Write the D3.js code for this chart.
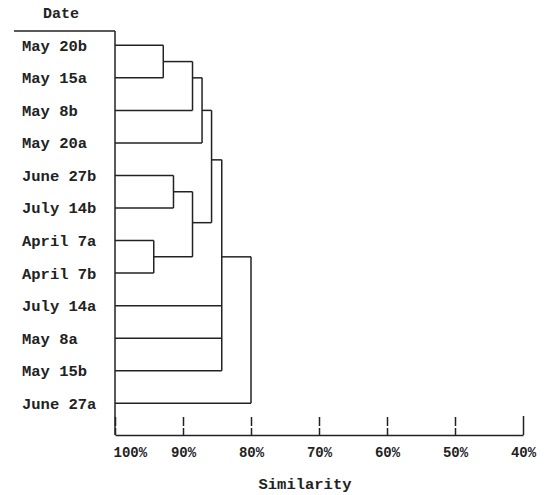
<!DOCTYPE html>
<html>
<head>
<meta charset="utf-8">
<script src="https://cdn.jsdelivr.net/npm/d3@7"></script>
<style>
  body { margin: 0; background: #fff; }
  text { font-family: "Liberation Mono", "DejaVu Sans Mono", monospace; font-weight: bold; fill: #222; }
</style>
</head>
<body>
<div id="root"></div>
<script>
// leaves, top to bottom
var dates = ["May 20b", "May 15a", "May 8b", "May 20a", "June 27b", "July 14b",
    "April 7a", "April 7b", "July 14a", "May 8a", "May 15b", "June 27a"];

// clusters: children, similarity where they join, row where the joined branch leaves
var clusterIds = ["c1", "c2", "c3", "c4", "c5", "c6", "c7", "c8", "c9"];
var clusterChildren = [
    ["May 20b", "May 15a"],
    ["c1", "May 8b"],
    ["c2", "May 20a"],
    ["June 27b", "July 14b"],
    ["April 7a", "April 7b"],
    ["c4", "c5"],
    ["c3", "c6"],
    ["c7", "July 14a", "May 8a", "May 15b"],
    ["c8", "June 27a"]
];
var clusterSimilarity = [92.9, 88.6, 87.2, 91.4, 94.3, 88.6, 85.8, 84.3, 80.0];
var clusterRow = [0.5, 1, 2, 4.5, 6.5, 5.45, 3.52, 6.5, 8];

var tickValues = [100, 90, 80, 70, 60, 50, 40];

var svgWidth = 551,
    svgHeight = 495;

var svg = d3.select("#root")
    .append("svg")
    .attr("width", svgWidth)
    .attr("height", svgHeight);

var x = d3.scaleLinear()
    .domain([100, 40])
    .range([115, 523]);

var y = d3.scaleLinear()
    .domain([0, dates.length - 1])
    .range([45.3, 403.3]);

var axisTop = 31,
    axisBottom = 435;

// position of every node: leaves sit at 100%
var pos = {};
dates.forEach(function (d, i) {
    pos[d] = { x: x(100), y: y(i) };
});
clusterIds.forEach(function (id, i) {
    pos[id] = { x: x(clusterSimilarity[i]), y: y(clusterRow[i]) };
});

var g = svg.append("g")
    .attr("fill", "none")
    .attr("stroke", "#222")
    .attr("stroke-width", 1.5);

// leaf lines and branch lines up to each junction
clusterIds.forEach(function (id, i) {
    var px = pos[id].x;
    var ys = clusterChildren[i].map(function (c) {
        return pos[c].y;
    });
    ys.push(pos[id].y);
    clusterChildren[i].forEach(function (c) {
        g.append("line")
            .attr("x1", pos[c].x)
            .attr("x2", px)
            .attr("y1", pos[c].y)
            .attr("y2", pos[c].y);
    });
    g.append("line")
        .attr("x1", px)
        .attr("x2", px)
        .attr("y1", d3.min(ys))
        .attr("y2", d3.max(ys));
});

// left frame
g.append("line")
    .attr("x1", 14).attr("x2", x(100))
    .attr("y1", axisTop).attr("y2", axisTop);
g.append("line")
    .attr("x1", x(100)).attr("x2", x(100))
    .attr("y1", axisTop).attr("y2", axisBottom);

svg.append("text")
    .attr("x", 61)
    .attr("y", 18)
    .attr("text-anchor", "middle")
    .attr("font-size", 15)
    .text("Date");

svg.append("g")
    .selectAll("text")
    .data(dates)
    .enter()
    .append("text")
    .attr("x", 22)
    .attr("y", function (d, i) {
        return y(i);
    })
    .attr("dy", "0.35em")
    .attr("font-size", 15.5)
    .text(function (d) {
        return d;
    });

// similarity axis
var xAxis = svg.append("g")
    .attr("transform", "translate(0," + axisBottom + ")")
    .call(d3.axisBottom(x)
        .tickValues(tickValues)
        .tickSizeInner(-19)
        .tickSizeOuter(0)
        .tickPadding(12)
        .tickFormat(function (d) {
            return d + "%";
        }));

xAxis.select(".domain")
    .attr("stroke", "#222")
    .attr("stroke-width", 1.5);

xAxis.selectAll(".tick line")
    .attr("stroke", "#222")
    .attr("stroke-width", 1.5)
    .attr("stroke-dasharray", function (d) {
        return d === 40 ? null : "7,2,9";
    });

xAxis.selectAll(".tick text")
    .attr("fill", "#222")
    .attr("font-family", "Liberation Mono, monospace")
    .attr("font-size", 14)
    .attr("text-anchor", function (d) {
        return d === 100 ? "start" : "middle";
    })
    .attr("dx", function (d) {
        return d === 100 ? -2 : 0;
    });

svg.append("text")
    .attr("x", 305)
    .attr("y", 489)
    .attr("text-anchor", "middle")
    .attr("font-size", 15.5)
    .text("Similarity");
</script>
</body>
</html>
